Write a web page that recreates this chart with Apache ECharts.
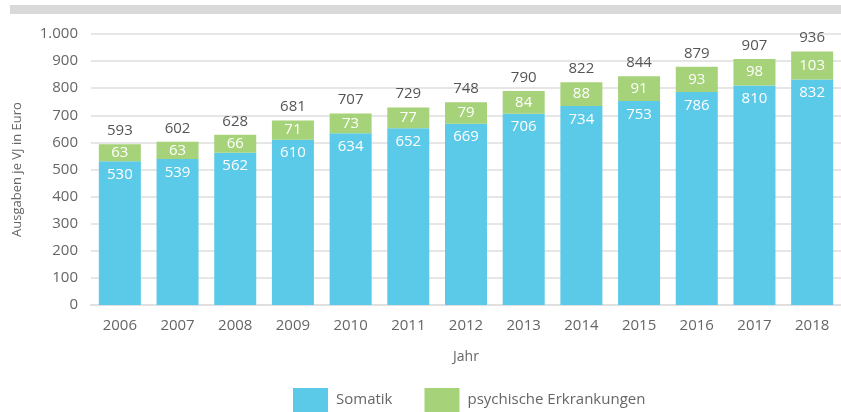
<!DOCTYPE html>
<html>
<head>
<meta charset="utf-8">
<script src="https://cdn.jsdelivr.net/npm/echarts@6/dist/echarts.min.js"></script>
<style>
  html, body { margin: 0; padding: 0; background: #fff; }
  #chart { width: 841px; height: 412px; }
</style>
</head>
<body>
<div id="chart"></div>
<script>
// Jahre
const years = ["2006", "2007", "2008", "2009", "2010", "2011", "2012", "2013", "2014", "2015", "2016", "2017", "2018"];
// Ausgaben je VJ in Euro
const somatik = [530, 539, 562, 610, 634, 652, 669, 706, 734, 753, 786, 810, 832];
const psychisch = [63, 63, 66, 71, 73, 77, 79, 84, 88, 91, 93, 98, 103];
const gesamt = [593, 602, 628, 681, 707, 729, 748, 790, 822, 844, 879, 907, 936];

const font = "'Open Sans', sans-serif";

let chart = echarts.init(document.getElementById("chart"));
chart.setOption({
  animation: false,
  textStyle: { fontFamily: font },
  graphic: [
    {
      type: "rect",
      shape: { x: 10, y: 5, width: 831, height: 9 },
      style: { fill: "#d9d9d9" },
    },
  ],
  grid: { left: 91, right: 0, top: 34, bottom: 107 },
  legend: {
    bottom: -5,
    left: 288,
    itemWidth: 35,
    itemHeight: 24,
    itemGap: 32,
    icon: "rect",
    textStyle: { color: "#666", fontSize: 15, fontFamily: font, padding: [0, 0, 0, 3] },
    data: ["Somatik", "psychische Erkrankungen"],
  },
  xAxis: {
    type: "category",
    data: years,
    name: "Jahr",
    nameLocation: "middle",
    nameGap: 45,
    nameTextStyle: { color: "#666", fontSize: 14 },
    axisLine: { lineStyle: { color: "#e0e0e0", width: 2 } },
    axisTick: { show: false },
    axisLabel: { color: "#666", fontSize: 15, margin: 13 },
  },
  yAxis: {
    type: "value",
    min: 0,
    max: 1000,
    interval: 100,
    name: "Ausgaben je VJ in Euro",
    nameLocation: "middle",
    nameGap: 67,
    nameTextStyle: { color: "#666", fontSize: 13 },
    axisLabel: {
      color: "#666",
      fontSize: 15,
      margin: 13,
      formatter: (v) => v.toLocaleString("de-DE"),
    },
    splitLine: { lineStyle: { color: "#e6e6e6", width: 2 } },
  },
  series: [
    {
      name: "Somatik",
      type: "bar",
      stack: "a",
      barWidth: 42,
      itemStyle: { color: "#5bc9e8" },
      label: {
        show: true,
        position: "insideTop",
        distance: 6,
        color: "#fff",
        fontSize: 15,
      },
      data: somatik,
    },
    {
      name: "psychische Erkrankungen",
      type: "bar",
      stack: "a",
      itemStyle: { color: "#a6d279" },
      label: {
        show: true,
        position: "inside",
        color: "#fff",
        fontSize: 15,
      },
      data: psychisch,
    },
    {
      // Summe über dem Balken
      name: "Gesamt",
      type: "bar",
      stack: "a",
      itemStyle: { color: "transparent" },
      label: {
        show: true,
        position: "insideBottom",
        distance: 6,
        color: "#555",
        fontSize: 15,
        formatter: (p) => gesamt[p.dataIndex],
      },
      data: years.map(() => 0.0001),
    },
  ],
});
</script>
</body>
</html>
